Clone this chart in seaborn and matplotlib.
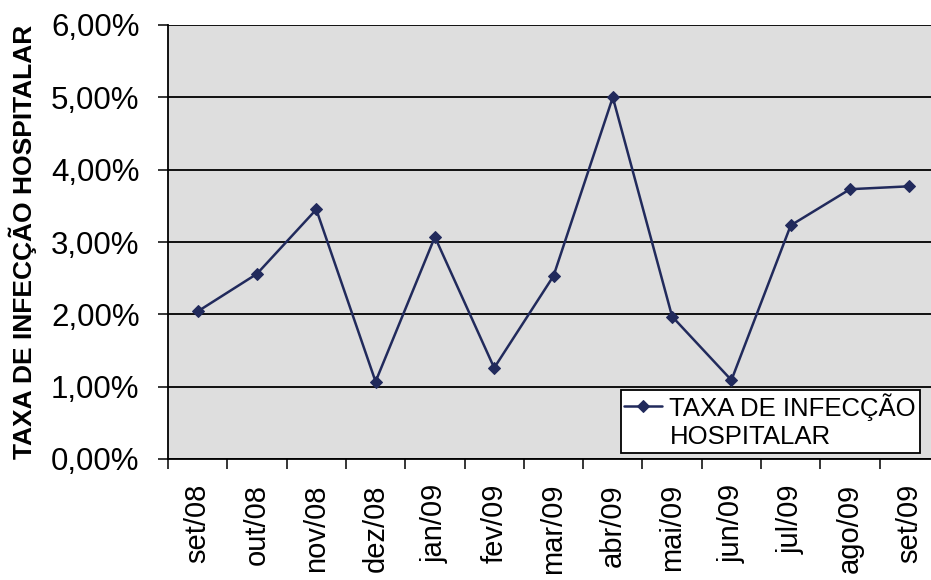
import matplotlib
matplotlib.use("Agg")
import matplotlib.pyplot as plt
import numpy as np
import pandas as pd
import seaborn as sns
from matplotlib.ticker import FuncFormatter
from matplotlib.legend_handler import HandlerLine2D

# Monthly hospital infection rate (%)
meses = ["set/08", "out/08", "nov/08", "dez/08", "jan/09", "fev/09", "mar/09",
         "abr/09", "mai/09", "jun/09", "jul/09", "ago/09", "set/09"]
taxa = [2.04, 2.56, 3.45, 1.07, 3.07, 1.26, 2.53, 5.00, 1.97, 1.09, 3.23, 3.73, 3.77]
serie = "TAXA DE INFECÇÃO\nHOSPITALAR"

df = pd.DataFrame({"pos": np.arange(len(meses)), "taxa": np.array(taxa) / 100.0})

sns.set_theme(style="ticks")
plt.rcParams["font.family"] = ["Liberation Sans", "DejaVu Sans"]


class FirstLineHandler(HandlerLine2D):
    """Line handle aligned with the first line of a two-line legend label."""

    def __init__(self, dy, **kw):
        super().__init__(**kw)
        self.dy = dy

    def create_artists(self, legend, orig_handle, xdescent, ydescent,
                       width, height, fontsize, trans):
        arts = super().create_artists(legend, orig_handle, xdescent, ydescent,
                                      width, height, fontsize, trans)
        for a in arts:
            a.set_ydata(np.asarray(a.get_ydata(), dtype=float) + self.dy)
        return arts


fig = plt.figure(figsize=(9.31, 5.80), dpi=100)
fig.patch.set_facecolor("white")
ax = fig.add_axes([168 / 931, 1 - 459 / 580, 771 / 931, 434 / 580])
ax.set_facecolor("#dedede")

navy = "#212a5c"
sns.lineplot(data=df, x="pos", y="taxa", ax=ax, color=navy, linewidth=1.8,
             marker="D", markersize=6.5, markeredgecolor=navy, label=serie)

ax.set_xlim(-0.5, len(meses) - 0.5)
ax.set_ylim(0, 0.06)
ax.set_yticks(np.arange(0, 0.061, 0.01))
ax.yaxis.set_major_formatter(FuncFormatter(lambda v, p: f"{v*100:.2f}%".replace(".", ",")))
ax.grid(axis="y", color="black", linewidth=1.3)
ax.set_axisbelow(True)

ax.set_xticks(np.arange(len(meses)))
ax.set_xticklabels(meses, rotation=90, fontsize=21)
ax.set_xticks(np.arange(-0.5, len(meses), 1), minor=True)
ax.tick_params(axis="x", which="major", length=0, pad=18)
ax.tick_params(axis="x", which="minor", length=7.5, width=1.1, color="black", direction="out")
ax.tick_params(axis="y", length=7.5, width=1.1, color="black", labelsize=22.5, pad=13)
for t in ax.get_xticklabels() + ax.get_yticklabels():
    t.set_color("black")

for s in ["top", "right"]:
    ax.spines[s].set_visible(False)
for s in ["left", "bottom"]:
    ax.spines[s].set_color("black")
    ax.spines[s].set_linewidth(1.3)

ax.set_xlabel("")
ax.set_ylabel("TAXA DE INFECÇÃO HOSPITALAR", fontsize=19, fontweight="bold",
              color="black", labelpad=10)

leg_fs = 18.5
handles, labels = ax.get_legend_handles_labels()
leg = ax.legend(handles, labels, loc="lower left", bbox_to_anchor=(0.587, 0.0145),
                fontsize=leg_fs, frameon=True, fancybox=False, edgecolor="black",
                facecolor="white", framealpha=1, handlelength=1.45, handletextpad=0.3,
                borderpad=0.15, borderaxespad=0,
                handler_map={handles[0]: FirstLineHandler(dy=0.6 * leg_fs)})
leg.get_frame().set_linewidth(1.3)
for t in leg.get_texts():
    t.set_color("black")

fig.savefig("out.png", dpi=100)
